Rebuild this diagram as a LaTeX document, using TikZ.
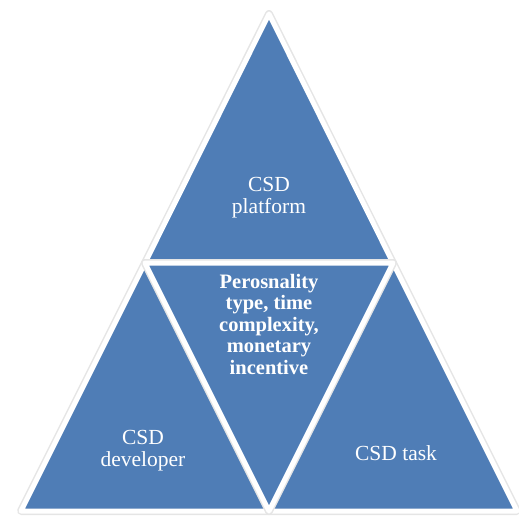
\documentclass[tikz,border=0pt]{standalone}
\usepackage{fontspec}
\setmainfont{Liberation Serif}
\usetikzlibrary{positioning}
\definecolor{csdblue}{RGB}{79,125,182}
\tikzset{
  facet/.style={
    fill=csdblue,
    draw=white, line width=5pt, line join=round,
    preaction={draw=black!10, line width=8pt, line join=round}},
  facettext/.style={
    text=white,
    align=center,
    font=\fontsize{21.5}{22}\selectfont},
  midtext/.style={
    facettext,
    font=\fontsize{20.5}{21.5}\selectfont\bfseries},
}

\begin{document}
\begin{tikzpicture}[x=1pt,y=-1pt]
  \useasboundingbox (0,0) rectangle (519,520);
  % corners of the pyramid
  \coordinate (apex) at (269,14);
  \coordinate (midL) at (145,263);
  \coordinate (midR) at (393,263);
  \coordinate (botL) at (21,511);
  \coordinate (botM) at (269,511);
  \coordinate (botR) at (517,511);
  % four facets
  \path[facet] (apex) -- (midR) -- (midL) -- cycle;
  \path[facet] (midL) -- (botM) -- (botL) -- cycle;
  \path[facet] (midR) -- (botR) -- (botM) -- cycle;
  \path[facet] (midL) -- (midR) -- (botM) -- cycle;
  % labels
  \node[facettext] (platform) at (269,198) {CSD\\platform};
  \node[midtext] (factors) at (269,324) {Perosnality\\type, time\\complexity,\\monetary\\incentive};
  \node[facettext] (developer) at (143,451) {CSD\\developer};
  \node[facettext] (task) at (396,453) {CSD task};
\end{tikzpicture}
\end{document}
